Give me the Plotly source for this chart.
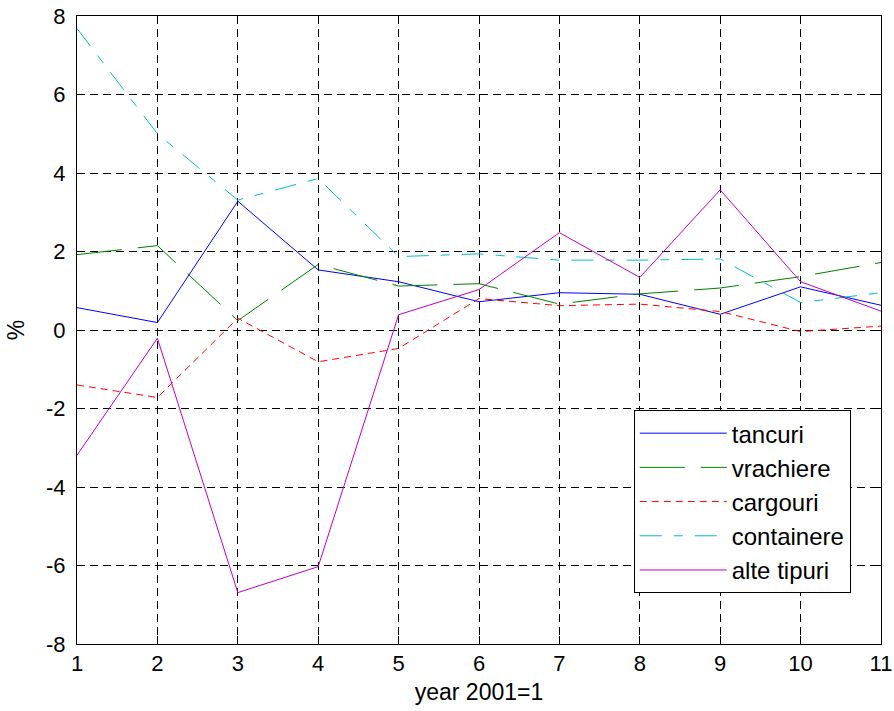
import plotly.graph_objects as go

years = list(range(1, 12))
tancuri = [0.57, 0.19, 3.28, 1.53, 1.23, 0.72, 0.95, 0.91, 0.40, 1.10, 0.63]
vrachiere = [1.92, 2.15, 0.24, 1.67, 1.12, 1.18, 0.66, 0.92, 1.07, 1.36, 1.72]
cargouri = [-1.40, -1.72, 0.30, -0.81, -0.47, 0.80, 0.62, 0.66, 0.47, -0.04, 0.10]
containere = [7.68, 5.00, 3.31, 3.86, 1.87, 1.94, 1.78, 1.78, 1.81, 0.70, 0.95]
alte_tipuri = [-3.19, -0.21, -6.69, -6.03, 0.39, 1.03, 2.48, 1.34, 3.57, 1.23, 0.48]

x_ticks = list(range(1, 12))
x_ticklabels = [str(v) for v in x_ticks]
y_ticks = [-8, -6, -4, -2, 0, 2, 4, 6, 8]
y_ticklabels = ["-8", "-6", "-4", "-2", "0", "2", "4", "6", "8"]

series = [
    ("tancuri", tancuri, "#0000FF", "solid"),
    ("vrachiere", vrachiere, "#008000", "45px,16px"),
    ("cargouri", cargouri, "#FF0000", "7px,5px"),
    ("containere", containere, "#00BFBF", "22px,12px,9px,12px"),
    ("alte tipuri", alte_tipuri, "#BF00BF", "solid"),
]

fig = go.Figure()
for i, (name, vals, color, dash) in enumerate(series):
    fig.add_trace(go.Scatter(
        x=years, y=vals, mode="lines", name=name,
        line=dict(color=color, width=1, dash=dash),
        legendgroup=f"g{i}",
    ))

fam = "Liberation Sans, Arial, sans-serif"
tick_font = dict(family=fam, size=22, color="black")
title_font = dict(family=fam, size=23, color="black")

fig.update_layout(
    width=894, height=711,
    margin=dict(l=77, r=13, t=16, b=67, autoexpand=False),
    paper_bgcolor="white", plot_bgcolor="white",
    font=tick_font,
    showlegend=True,
    legend=dict(
        x=0.6925, y=0.3725, xanchor="left", yanchor="top",
        bordercolor="black", borderwidth=1, bgcolor="white",
        font=dict(family=fam, size=24, color="black"),
        tracegroupgap=0, itemwidth=87,
    ),
)
fig.update_xaxes(
    range=[1, 11], tickmode="array", tickvals=x_ticks, ticktext=x_ticklabels,
    showline=True, linecolor="black", linewidth=1, mirror="ticks",
    ticks="inside", ticklen=8, tickcolor="black",
    showgrid=True, gridcolor="black", gridwidth=1, griddash="8px,5px",
    zeroline=False, automargin=False,
    title=dict(text="year 2001=1", font=title_font, standoff=8),
    tickfont=tick_font,
)
fig.update_yaxes(
    range=[-8, 8], tickmode="array", tickvals=y_ticks, ticktext=y_ticklabels,
    showline=True, linecolor="black", linewidth=1, mirror="ticks",
    ticks="inside", ticklen=8, tickcolor="black", ticklabelstandoff=6,
    showgrid=True, gridcolor="black", gridwidth=1, griddash="8px,5px",
    zeroline=False, automargin=False,
    title=dict(text="%", font=title_font, standoff=14),
    tickfont=tick_font,
)

fig.write_html(
    "out.html",
    config={"displayModeBar": False},
    post_script="document.body.style.margin='0';document.body.style.overflow='hidden';",
)
